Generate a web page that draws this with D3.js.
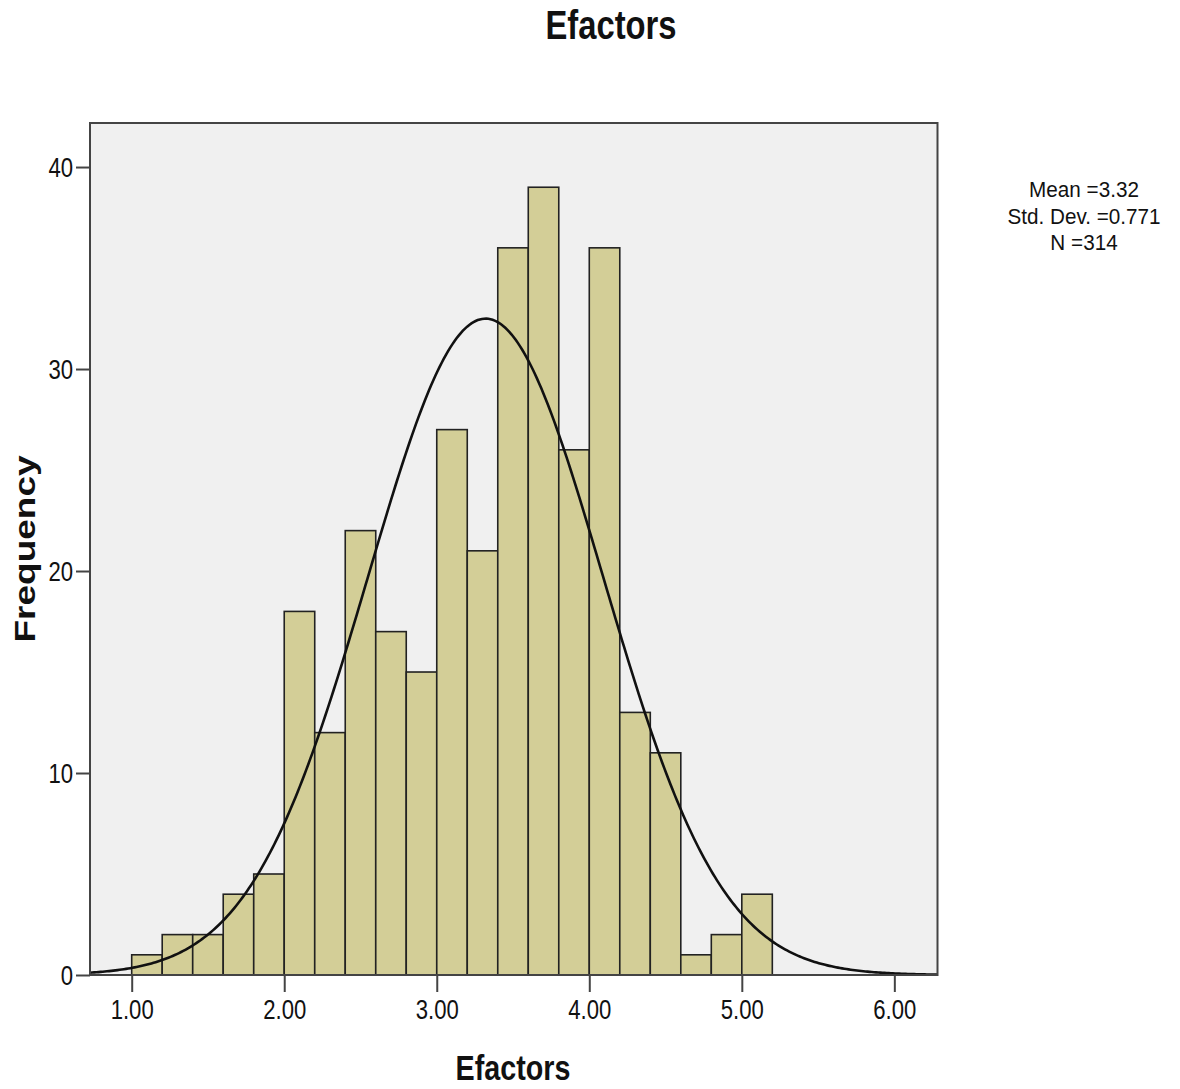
<!DOCTYPE html>
<html>
<head>
<meta charset="utf-8">
<script src="https://cdn.jsdelivr.net/npm/d3@7"></script>
<style>
  body { margin: 0; background: #fff; }
  svg text { font-family: "Liberation Sans", Arial, sans-serif; fill: #111; }
</style>
</head>
<body>
<svg id="chart" width="1180" height="1089"></svg>
<script>
// histogram data (lower bin edges, counts)
var binStarts = [1.0, 1.2, 1.4, 1.6, 1.8, 2.0, 2.2, 2.4, 2.6, 2.8, 3.0, 3.2, 3.4, 3.6, 3.8, 4.0, 4.2, 4.4, 4.6, 4.8, 5.0];
var counts    = [1,   2,   2,   4,   5,   18,  12,  22,  17,  15,  27,  21,  36,  39,  26,  36,  13,  11,  1,   2,   4];
var binWidth = 0.2;
var xTicks = [1, 2, 3, 4, 5, 6];
var yTicks = [0, 10, 20, 30, 40];
var stats = {mean: 3.32, sd: 0.771, n: 314};
var statLines = ["Mean =3.32", "Std. Dev. =0.771", "N =314"];

var svg = d3.select("#chart"),
    sx = 0.82, // narrow glyphs like the original
    box = {l: 90, r: 937.5, t: 123, b: 975};

var x = d3.scaleLinear().domain([0.7266, 6.283]).range([box.l, box.r]),
    y = d3.scaleLinear().domain([0, 42.18]).range([box.b, box.t]);

// text helper: squeezed horizontally
function label(txt, px, py, size, weight, anchor, rot, k) {
  return svg.append("text")
    .attr("transform", "translate(" + px + "," + py + ") scale(" + (k || sx) + ",1)" + (rot ? " rotate(" + rot + ")" : ""))
    .attr("text-anchor", anchor || "middle")
    .style("font-size", size + "px")
    .style("font-weight", weight || "normal")
    .text(txt);
}

// plot background
svg.append("rect")
  .attr("x", box.l).attr("y", box.t)
  .attr("width", box.r - box.l).attr("height", box.b - box.t)
  .attr("fill", "#f0f0f0");

// bars
svg.append("g").selectAll("rect").data(counts)
  .enter().append("rect")
  .attr("x", function(d, i) { return x(binStarts[i]); })
  .attr("width", function(d, i) { return x(binStarts[i] + binWidth) - x(binStarts[i]); })
  .attr("y", function(d) { return y(d); })
  .attr("height", function(d) { return y(0) - y(d); })
  .attr("fill", "#d3ce97")
  .attr("stroke", "#222")
  .attr("stroke-width", 1.6);

// normal curve from the reported mean / sd / N
var pts = d3.range(0, 401).map(function(i) {
  var v = x.domain()[0] + (x.domain()[1] - x.domain()[0]) * i / 400,
      z = (v - stats.mean) / stats.sd;
  return [v, stats.n * binWidth * Math.exp(-0.5 * z * z) / (stats.sd * Math.sqrt(2 * Math.PI))];
});
svg.append("path")
  .datum(pts)
  .attr("fill", "none")
  .attr("stroke", "#111")
  .attr("stroke-width", 2.6)
  .attr("d", d3.line().x(function(d) { return x(d[0]); }).y(function(d) { return y(d[1]); }));

// frame
svg.append("rect")
  .attr("x", box.l).attr("y", box.t)
  .attr("width", box.r - box.l).attr("height", box.b - box.t)
  .attr("fill", "none")
  .attr("stroke", "#444")
  .attr("stroke-width", 2);

// axes
var yAxis = d3.axisLeft(y).tickValues(yTicks).tickSize(14).tickFormat(d3.format("d"));
var gy = svg.append("g").attr("transform", "translate(" + box.l + ",0)").call(yAxis);
gy.select(".domain").remove();
gy.selectAll(".tick line").attr("stroke", "#444").attr("stroke-width", 2);
gy.selectAll(".tick text")
  .attr("x", null).attr("dy", null)
  .attr("transform", "translate(-17,9.5) scale(" + sx + ",1)")
  .style("font-size", "27px").attr("fill", "#111");

var xAxis = d3.axisBottom(x).tickValues(xTicks).tickSize(17).tickFormat(d3.format(".2f"));
var gx = svg.append("g").attr("transform", "translate(0," + box.b + ")").call(xAxis);
gx.select(".domain").remove();
gx.selectAll(".tick line").attr("stroke", "#444").attr("stroke-width", 2);
gx.selectAll(".tick text")
  .attr("y", null).attr("dy", null)
  .attr("transform", "translate(0,44) scale(" + sx + ",1)")
  .style("font-size", "27px").attr("fill", "#111");

// titles
label("Efactors", 611, 39, 40, "bold");
label("Efactors", 513, 1080, 35, "bold");
label("Frequency", 35, 549, 37, "bold", "middle", -90);

// stats box
statLines.forEach(function(s, i) {
  label(s, 1084, 197 + i * 26.5, 22.5, "normal", "middle", 0, 0.92);
});
</script>
</body>
</html>
